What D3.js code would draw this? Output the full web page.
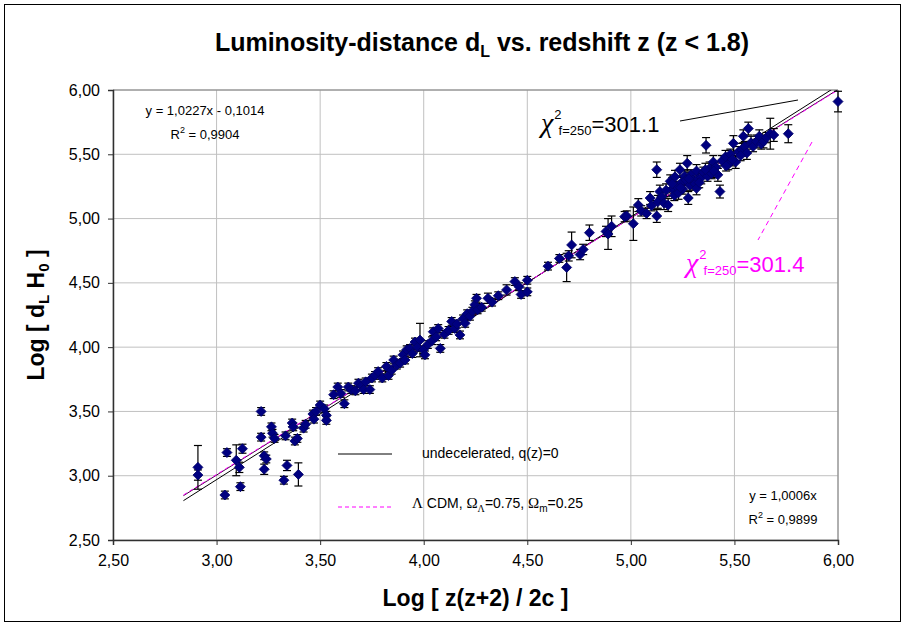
<!DOCTYPE html>
<html>
<head>
<meta charset="utf-8">
<script src="https://d3js.org/d3.v7.min.js"></script>
<style>
  body { margin: 0; background: #fff; }
  text { font-family: "Liberation Sans", Arial, sans-serif; fill: #000; }
  .greek { font-family: "Liberation Serif", "Times New Roman", serif; }
</style>
</head>
<body>
<div id="chart"></div>
<script>
// tick values for both axes
var xTicks = [2.5, 3.0, 3.5, 4.0, 4.5, 5.0, 5.5, 6.0];
var yTicks = [2.5, 3.0, 3.5, 4.0, 4.5, 5.0, 5.5, 6.0];

// data points: log x, log dL H0, error half-height
var logX = [2.91, 2.91, 3.04, 3.05, 3.095, 3.11, 3.115, 3.125, 3.215, 3.215, 3.23, 3.24, 3.23,
  3.265, 3.27, 3.28, 3.325, 3.34, 3.333, 3.365, 3.37, 3.378, 3.39, 3.395, 3.42, 3.43,
  3.465, 3.47, 3.48, 3.50, 3.52, 3.53, 3.53, 3.565, 3.585, 3.60, 3.617, 3.636, 3.65,
  3.67, 3.685, 3.70, 3.71, 3.72, 3.74, 3.75, 3.765, 3.78, 3.80, 3.82, 3.83, 3.845,
  3.855, 3.87, 3.886, 3.90, 3.91, 3.918, 3.934, 3.945, 3.958, 3.97, 3.982, 3.998,
  4.006, 4.02, 4.04, 4.046, 4.06, 4.07, 4.08, 4.10, 4.12, 4.135, 4.15, 4.16, 4.175,
  4.19, 4.20, 4.21, 4.223, 4.235, 4.247, 4.26, 4.255, 4.28, 4.31, 4.33, 4.36, 4.40,
  4.44, 4.46, 4.47, 4.50, 4.50, 4.60, 4.655, 4.69, 4.70, 4.714, 4.755, 4.77, 4.80,
  4.88, 4.89, 4.907, 4.97, 4.98, 5.012, 5.036, 5.05, 5.076, 5.093, 5.10, 5.125, 5.125,
  5.13, 5.14, 5.15, 5.16, 5.18, 5.19, 5.20, 5.21, 5.213, 5.22, 5.23, 5.237, 5.245,
  5.25, 5.26, 5.265, 5.272, 5.277, 5.285, 5.29, 5.30, 5.31, 5.317, 5.317, 5.325, 5.34,
  5.35, 5.363, 5.37, 5.38, 5.39, 5.398, 5.41, 5.42, 5.43, 5.44, 5.457, 5.47, 5.48,
  5.495, 5.506, 5.52, 5.535, 5.543, 5.55, 5.56, 5.567, 5.58, 5.59, 5.607, 5.62, 5.63,
  5.64, 5.655, 5.673, 5.69, 5.76, 6.00,
  5.17, 5.20, 5.24, 5.28, 5.33, 5.36, 5.40, 5.46, 5.49, 5.53];
var logD = [3.065, 3.005, 2.85, 3.18, 3.12, 3.065, 2.915, 3.21, 3.50, 3.30, 3.155, 3.13, 3.05,
  3.38, 3.33, 3.29, 2.965, 3.08, 3.31, 3.41, 3.38, 3.27, 3.29, 3.01, 3.37, 3.40,
  3.48, 3.44, 3.50, 3.55, 3.52, 3.47, 3.43, 3.63, 3.69, 3.64, 3.56, 3.69, 3.67,
  3.66, 3.72, 3.70, 3.67, 3.73, 3.67, 3.76, 3.78, 3.81, 3.76, 3.85, 3.78, 3.82,
  3.90, 3.86, 3.875, 3.94, 3.90, 3.98, 3.99, 3.95, 4.04, 4.00, 4.055, 3.98,
  3.94, 4.02, 4.05, 4.12, 4.08, 4.145, 3.99, 4.10, 4.13, 4.20, 4.145, 4.18, 4.095,
  4.22, 4.185, 4.26, 4.24, 4.28, 4.33, 4.29, 4.38, 4.31, 4.38, 4.35, 4.40, 4.445,
  4.51, 4.47, 4.41, 4.52, 4.43, 4.63, 4.69, 4.62, 4.71, 4.795, 4.72, 4.76, 4.89,
  4.90, 4.88, 4.94, 5.015, 5.02, 4.96, 5.105, 5.06, 5.04, 5.16, 5.10, 5.02, 5.38,
  5.13, 5.21, 5.17, 5.12, 5.105, 5.29, 5.23, 5.18, 5.325, 5.25, 5.20, 5.38, 5.28,
  5.23, 5.33, 5.30, 5.43, 5.16, 5.26, 5.34, 5.30, 5.27, 5.235, 5.37, 5.31, 5.32,
  5.36, 5.57, 5.33, 5.39, 5.35, 5.44, 5.40, 5.34, 5.21, 5.45, 5.48, 5.42, 5.50,
  5.585, 5.44, 5.52, 5.535, 5.64, 5.56, 5.51, 5.70, 5.59, 5.56, 5.60, 5.64, 5.58,
  5.60, 5.63, 5.66, 5.65, 5.66, 5.91,
  5.22, 5.27, 5.24, 5.31, 5.28, 5.38, 5.37, 5.41, 5.46, 5.49];
var errD = [0.17, 0.04, 0.03, 0.03, 0.12, 0.04, 0.03, 0.035, 0.03, 0.03, 0.03, 0.03, 0.04,
  0.03, 0.03, 0.03, 0.03, 0.04, 0.03, 0.03, 0.03, 0.03, 0.03, 0.09, 0.03, 0.03,
  0.03, 0.03, 0.03, 0.03, 0.03, 0.03, 0.03, 0.03, 0.03, 0.03, 0.03, 0.03, 0.03,
  0.03, 0.03, 0.03, 0.03, 0.03, 0.03, 0.03, 0.03, 0.03, 0.03, 0.03, 0.03, 0.03,
  0.03, 0.03, 0.03, 0.03, 0.03, 0.03, 0.03, 0.03, 0.03, 0.03, 0.13, 0.03,
  0.03, 0.03, 0.03, 0.03, 0.03, 0.03, 0.03, 0.03, 0.03, 0.03, 0.03, 0.03, 0.03,
  0.03, 0.03, 0.03, 0.03, 0.03, 0.03, 0.03, 0.03, 0.03, 0.04, 0.03, 0.03, 0.04,
  0.03, 0.03, 0.03, 0.03, 0.03, 0.03, 0.03, 0.11, 0.04, 0.10, 0.04, 0.04, 0.06,
  0.04, 0.12, 0.08, 0.04, 0.04, 0.13, 0.05, 0.04, 0.04, 0.05, 0.04, 0.05, 0.06,
  0.05, 0.05, 0.04, 0.05, 0.05, 0.05, 0.05, 0.04, 0.05, 0.04, 0.05, 0.05, 0.04,
  0.04, 0.05, 0.04, 0.06, 0.05, 0.04, 0.04, 0.05, 0.04, 0.05, 0.05, 0.04, 0.05,
  0.04, 0.06, 0.04, 0.05, 0.04, 0.05, 0.04, 0.05, 0.05, 0.04, 0.05, 0.04, 0.04,
  0.06, 0.05, 0.04, 0.05, 0.05, 0.04, 0.05, 0.05, 0.05, 0.04, 0.05, 0.05, 0.04,
  0.05, 0.04, 0.12, 0.05, 0.07, 0.08,
  0.05, 0.05, 0.04, 0.05, 0.04, 0.05, 0.05, 0.04, 0.05, 0.04];

// model / fit lines, end points in axis units
var undecX = [2.84, 6.0], undecY = [2.806, 6.035];   // y = 1,0227x - 0,1014
var fitX = [2.84, 6.0], fitY = [2.845, 6.004];       // y = 1,0006x
var lcdmX = [2.84, 6.0], lcdmY = [2.85, 6.0];

var W = 905, H = 627;
var pL = 113, pR = 838, pT = 90, pB = 540;

var svg = d3.select("#chart").append("svg")
    .attr("width", W)
    .attr("height", H);

svg.append("rect")
    .attr("x", 4.5).attr("y", 4.5)
    .attr("width", 896).attr("height", 617)
    .attr("fill", "#fff").attr("stroke", "#000").attr("stroke-width", 1);

var x = d3.scaleLinear().domain([2.5, 6]).range([pL, pR]);
var y = d3.scaleLinear().domain([2.5, 6]).range([pB, pT]);

var fmt = function(d) { return d3.format(".2f")(d).replace(".", ","); };

// grid
svg.append("g").selectAll("line").data(xTicks).enter().append("line")
    .attr("x1", d => x(d)).attr("x2", d => x(d))
    .attr("y1", pT).attr("y2", pB)
    .attr("stroke", "#c0c0c0").attr("stroke-width", 1);
svg.append("g").selectAll("line").data(yTicks).enter().append("line")
    .attr("x1", pL).attr("x2", pR)
    .attr("y1", d => y(d)).attr("y2", d => y(d))
    .attr("stroke", "#c0c0c0").attr("stroke-width", 1);

// plot frame (top/right)
svg.append("path")
    .attr("d", "M" + pL + "," + pT + "H" + pR + "V" + pB)
    .attr("fill", "none").attr("stroke", "#808080");

// axes
var xAxis = svg.append("g")
    .attr("transform", "translate(0," + pB + ")")
    .call(d3.axisBottom(x).tickValues(xTicks).tickSize(5).tickPadding(10).tickFormat(fmt));
var yAxis = svg.append("g")
    .attr("transform", "translate(" + pL + ",0)")
    .call(d3.axisLeft(y).tickValues(yTicks).tickSize(5).tickPadding(8).tickFormat(fmt));
[xAxis, yAxis].forEach(function(a) {
  a.select(".domain").attr("stroke", "#303030").attr("stroke-width", 1.5);
  a.selectAll(".tick line").attr("stroke", "#303030");
  a.selectAll(".tick text")
    .style("font-family", "'Liberation Sans', Arial, sans-serif")
    .style("font-size", "16px").attr("fill", "#000");
});

// clip for lines
svg.append("clipPath").attr("id", "plotclip")
  .append("rect").attr("x", pL).attr("y", pT)
  .attr("width", pR - pL).attr("height", pB - pT);

var lineG = svg.append("g").attr("clip-path", "url(#plotclip)");
function seg(xs, ys) {
  return d3.line().x(d => x(d[0])).y(d => y(d[1]))(xs.map((v, i) => [v, ys[i]]));
}
lineG.append("path").attr("d", seg(undecX, undecY))
    .attr("fill", "none").attr("stroke", "#000").attr("stroke-width", 1);
lineG.append("path").attr("d", seg(fitX, fitY))
    .attr("fill", "none").attr("stroke", "#400040").attr("stroke-width", 1);
lineG.append("path").attr("d", seg(lcdmX, lcdmY))
    .attr("fill", "none").attr("stroke", "#ff00ff").attr("stroke-width", 1)
    .attr("stroke-dasharray", "4,3");

// data
var pts = logX.map((v, i) => ({x: v, y: logD[i], e: errD[i]}));

var eb = svg.append("g").attr("stroke", "#000").attr("stroke-width", 1.2);
pts.forEach(function(p) {
  var cx = x(p.x), y1 = y(p.y + p.e), y2 = y(p.y - p.e);
  eb.append("line").attr("x1", cx).attr("x2", cx).attr("y1", y1).attr("y2", y2);
  eb.append("line").attr("x1", cx - 4).attr("x2", cx + 4).attr("y1", y1).attr("y2", y1);
  eb.append("line").attr("x1", cx - 4).attr("x2", cx + 4).attr("y1", y2).attr("y2", y2);
});

svg.append("g").selectAll("path").data(pts).enter().append("path")
    .attr("d", "M0,-5L5,0L0,5L-5,0Z")
    .attr("transform", d => "translate(" + x(d.x) + "," + y(d.y) + ")")
    .attr("fill", "#000080").attr("stroke", "#000066").attr("stroke-width", 0.8);

// title
var title = svg.append("text")
    .attr("x", 482).attr("y", 51)
    .attr("text-anchor", "middle")
    .style("font-size", "25px").style("font-weight", "bold");
title.append("tspan").text("Luminosity-distance d");
title.append("tspan").attr("dy", 6).style("font-size", "16px").text("L");
title.append("tspan").attr("dy", -6).text(" vs. redshift z (z < 1.8)");

// axis titles
svg.append("text")
    .attr("x", (pL + pR) / 2).attr("y", 606)
    .attr("text-anchor", "middle")
    .style("font-size", "23px").style("font-weight", "bold")
    .text("Log [ z(z+2) / 2c ]");

var yt = svg.append("text")
    .attr("transform", "translate(44," + ((pT + pB) / 2) + ") rotate(-90)")
    .attr("text-anchor", "middle")
    .style("font-size", "23px").style("font-weight", "bold");
yt.append("tspan").text("Log [ d");
yt.append("tspan").attr("dy", 5).style("font-size", "15px").text("L");
yt.append("tspan").attr("dy", -5).text(" H");
yt.append("tspan").attr("dy", 5).style("font-size", "15px").text("0");
yt.append("tspan").attr("dy", -5).text(" ]");

// regression labels
function eqLabel(cx, y0, line1, r2) {
  svg.append("text").attr("x", cx).attr("y", y0).attr("text-anchor", "middle")
      .style("font-size", "13px").text(line1);
  var t = svg.append("text").attr("x", cx).attr("y", y0 + 24).attr("text-anchor", "middle")
      .style("font-size", "13px");
  t.append("tspan").text("R");
  t.append("tspan").attr("dy", -6).style("font-size", "9px").text("2");
  t.append("tspan").attr("dy", 6).text(" = " + r2);
}
eqLabel(205, 115, "y = 1,0227x - 0,1014", "0,9904");
eqLabel(783, 500, "y = 1,0006x", "0,9899");

// chi-square annotations
function chi(x0, base, color, val) {
  var t = svg.append("text").attr("x", x0).attr("y", base)
      .style("fill", color).style("font-size", "22px");
  t.append("tspan").attr("class", "greek").style("font-size", "28px").style("font-style", "italic").text("\u03C7");
  t.append("tspan").attr("dx", 1).attr("dy", -13).style("font-size", "13px").text("2");
  t.append("tspan").attr("dx", -3).attr("dy", 16).style("font-size", "13px").text("f=250");
  t.append("tspan").attr("dy", -3).text("=" + val);
}
chi(541, 132, "#000", "301.1");
chi(686, 272, "#ff00ff", "301.4");

svg.append("line").attr("x1", 680).attr("y1", 121).attr("x2", 798).attr("y2", 100)
    .attr("stroke", "#000").attr("stroke-width", 1);
svg.append("line").attr("x1", 812).attr("y1", 142).attr("x2", 758).attr("y2", 240)
    .attr("stroke", "#ff00ff").attr("stroke-width", 1).attr("stroke-dasharray", "5,4");

// legend
svg.append("line").attr("x1", 338).attr("x2", 392).attr("y1", 454).attr("y2", 454)
    .attr("stroke", "#000").attr("stroke-width", 1);
svg.append("text").attr("x", 422).attr("y", 458).style("font-size", "14px")
    .text("undecelerated, q(z)=0");
svg.append("line").attr("x1", 338).attr("x2", 392).attr("y1", 507).attr("y2", 507)
    .attr("stroke", "#ff00ff").attr("stroke-width", 1).attr("stroke-dasharray", "4,3");
var lg = svg.append("text").attr("x", 412).attr("y", 508).style("font-size", "14px");
lg.append("tspan").attr("class", "greek").style("font-size", "15px").text("\u039B");
lg.append("tspan").text(" CDM, ");
lg.append("tspan").attr("class", "greek").style("font-size", "15px").text("\u03A9");
lg.append("tspan").attr("dy", 4).style("font-size", "10px").attr("class", "greek").text("\u039B");
lg.append("tspan").attr("dy", -4).text("=0.75, ");
lg.append("tspan").attr("class", "greek").style("font-size", "15px").text("\u03A9");
lg.append("tspan").attr("dy", 4).style("font-size", "10px").text("m");
lg.append("tspan").attr("dy", -4).text("=0.25");
</script>
</body>
</html>
